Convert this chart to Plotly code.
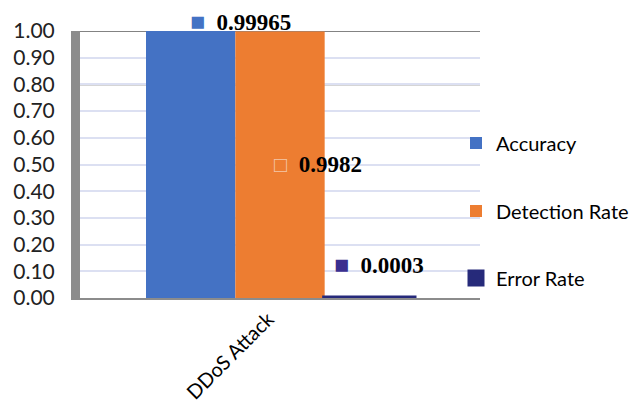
import plotly.graph_objects as go

categories = ["DDoS Attack"]
series_names = ["Accuracy", "Detection Rate", "Error Rate"]
accuracy = [0.99965]
detection_rate = [0.9982]
error_rate = [0.0003]
tick_vals = [0.0, 0.1, 0.2, 0.3, 0.4, 0.5, 0.6, 0.7, 0.8, 0.9, 1.0]
dark_grid_vals = [0.6, 0.7, 0.8, 0.9, 1.0]

colors = ["#4472C4", "#ED7D31", "#262A7A"]
series = [accuracy, detection_rate, error_rate]

fig = go.Figure()
legend_names = ["legend", "legend2", "legend3"]
for name, vals, col, lg in zip(series_names, series, colors, legend_names):
    fig.add_trace(go.Bar(
        x=categories, y=vals, name=name, legend=lg,
        marker=dict(color=col, line=dict(color=col, width=5 if name == "Error Rate" else 0)),
    ))

label_font = dict(family="Liberation Serif", size=23, color="black")
fig.add_annotation(x=categories[0], y=accuracy[0], xref="x", yref="y",
                   text='<span style="color:#4472C4;font-size:25px">■</span>  <b>0.99965</b>',
                   showarrow=False, xshift=-40, yanchor="bottom", yshift=-6, font=label_font)
fig.add_annotation(x=categories[0], y=detection_rate[0] / 2, xref="x", yref="y",
                   text='<span style="color:#F3C7A8;font-size:22px">□</span>  <b>0.9982</b>',
                   showarrow=False, xshift=38, yanchor="middle", font=label_font)
fig.add_annotation(x=categories[0], y=error_rate[0], xref="x", yref="y",
                   text='<span style="color:#3B2F8F;font-size:25px">■</span>  <b>0.0003</b>',
                   showarrow=False, xshift=99, yanchor="middle", yshift=33, font=label_font)

for v in dark_grid_vals:
    fig.add_shape(type="line", xref="paper", yref="y", x0=0, x1=1, y0=v, y1=v,
                  line=dict(color="#5a5a5a", width=1.5), layer="below")

leg_common = dict(font=dict(family="Lato", size=20, color="black"), bgcolor="rgba(0,0,0,0)",
                  xanchor="left", yanchor="middle", itemwidth=30, x=0.94)
fig.update_layout(
    width=636, height=403,
    margin=dict(l=80, r=156, t=31, b=105, autoexpand=False),
    paper_bgcolor="white", plot_bgcolor="white",
    barmode="group", bargap=0.33, bargroupgap=0,
    showlegend=True,
    legend=dict(y=(298 - 143) / 267, **leg_common),
    legend2=dict(y=(298 - 211) / 267, **leg_common),
    legend3=dict(y=(298 - 278) / 267, **leg_common),
    xaxis=dict(tickangle=-45, tickfont=dict(family="Lato", size=20, color="black"),
               showline=True, linecolor="#8c8c8c", linewidth=1.5, showgrid=False,
               automargin=False, ticklabelshift=-12),
    yaxis=dict(range=[0, 1.0], tickvals=tick_vals, tickformat=".2f",
               tickfont=dict(family="Lato", size=21, color="#222"),
               showline=True, linecolor="#8c8c8c", linewidth=9,
               gridcolor="#DCE0F2", gridwidth=1.5, zeroline=False,
               ticklabelstandoff=12, automargin=False),
)

fig.write_html("out.html")
